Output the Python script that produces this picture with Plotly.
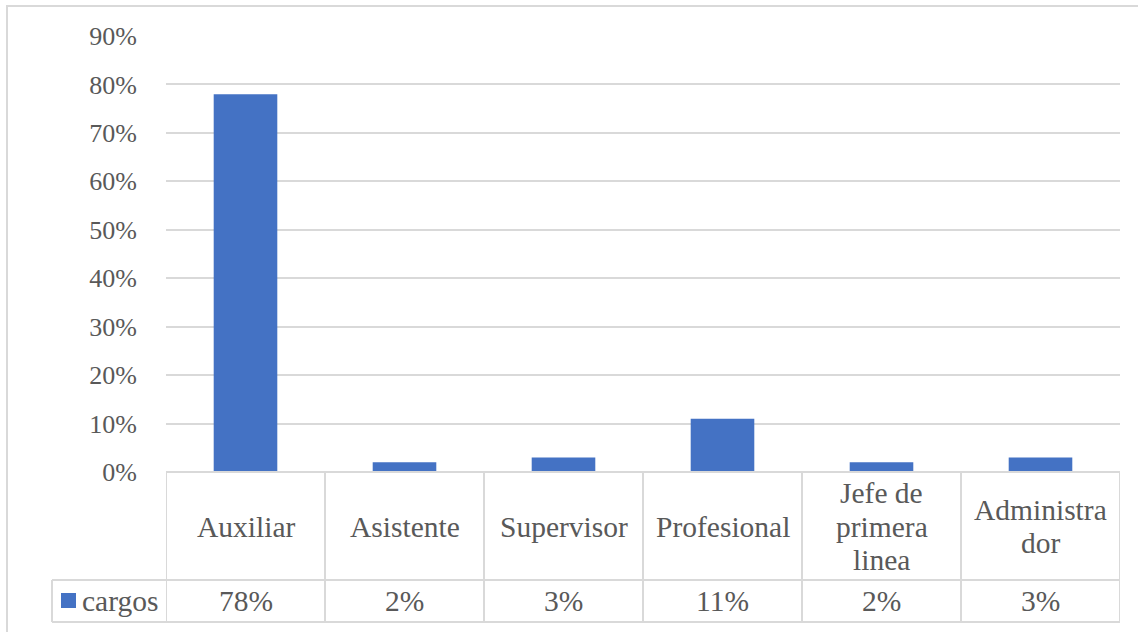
import plotly.graph_objects as go

categories = ["Auxiliar", "Asistente", "Supervisor", "Profesional", "Jefe de primera linea", "Administrador"]
table_lines = [["Auxiliar"], ["Asistente"], ["Supervisor"], ["Profesional"],
               ["Jefe de", "primera", "linea"], ["Administra", "dor"]]
values = [0.78, 0.02, 0.03, 0.11, 0.02, 0.03]
value_labels = ["78%", "2%", "3%", "11%", "2%", "3%"]
series_name = "cargos"
tick_vals = [0, 0.1, 0.2, 0.3, 0.4, 0.5, 0.6, 0.7, 0.8, 0.9]
tick_text = ["0%", "10%", "20%", "30%", "40%", "50%", "60%", "70%", "80%", "90%"]

W, H = 1138, 632
L, R, T, B = 166, 1120, 36, 472
PW, PH = R - L, B - T
FONT = "Liberation Serif"
TXT = "#595959"
GRID = "#d9d9d9"
BAR = "#4472C4"
FS_TICK = 26
FS_TAB = 29.5
LINE_H = 33.5


def px(x):
    return (x - L) / PW


def py(y):
    return (B - y) / PH


fig = go.Figure()
xs = list(range(len(categories)))
fig.add_trace(go.Bar(x=xs, y=values, marker=dict(color=BAR, line=dict(width=0)),
                     name=series_name, showlegend=False, hoverinfo="skip"))

shapes = []
# outer border
shapes.append(dict(type="rect", xref="paper", yref="paper", x0=px(7), x1=px(1150), y0=py(6), y1=py(650),
                   line=dict(color=GRID, width=2), fillcolor="rgba(0,0,0,0)", layer="below"))
# table horizontal lines
rows = [(B, L), (580, 52), (622, 52)]
for yy, x0 in rows:
    shapes.append(dict(type="line", xref="paper", yref="paper", x0=px(x0), x1=px(R), y0=py(yy), y1=py(yy),
                       line=dict(color=GRID, width=2)))
# table vertical lines
for i in range(len(categories) + 1):
    shapes.append(dict(type="line", xref="x", yref="paper", x0=i - 0.5, x1=i - 0.5, y0=py(B), y1=py(622),
                       line=dict(color=GRID, width=2)))
shapes.append(dict(type="line", xref="paper", yref="paper", x0=px(52), x1=px(52), y0=py(580), y1=py(622),
                   line=dict(color=GRID, width=2)))
# legend key
shapes.append(dict(type="rect", xref="paper", yref="paper", x0=px(61), x1=px(76), y0=py(593), y1=py(608),
                   line=dict(width=0), fillcolor=BAR))

annotations = []
cell_mid = 526.5
for i, lines in enumerate(table_lines):
    n = len(lines)
    for k, line in enumerate(lines):
        yy = cell_mid + (k - (n - 1) / 2) * LINE_H
        annotations.append(dict(x=i, y=py(yy), xref="x", yref="paper", text=line, showarrow=False,
                                font=dict(family=FONT, size=FS_TAB, color=TXT),
                                xanchor="center", yanchor="middle"))
    annotations.append(dict(x=i, y=py(601), xref="x", yref="paper", text=value_labels[i], showarrow=False,
                            font=dict(family=FONT, size=FS_TAB, color=TXT), xanchor="center", yanchor="middle"))
annotations.append(dict(x=px(80), y=py(601), xref="paper", yref="paper", text=series_name, showarrow=False,
                        font=dict(family=FONT, size=FS_TAB, color=TXT), xanchor="left", yanchor="middle"))

fig.update_layout(
    width=W, height=H,
    margin=dict(l=L, r=W - R, t=T, b=H - B, pad=0),
    paper_bgcolor="white", plot_bgcolor="white",
    bargap=0.6,
    shapes=shapes, annotations=annotations,
    xaxis=dict(range=[-0.5, len(categories) - 0.5], showticklabels=False, showgrid=False,
               zeroline=False, showline=False, fixedrange=True),
    yaxis=dict(range=[0, 0.9], tickvals=tick_vals, ticktext=tick_text, showgrid=True,
               gridcolor=GRID, gridwidth=1.5, zeroline=False, showline=False, fixedrange=True,
               tickfont=dict(family=FONT, size=FS_TICK, color=TXT), ticklabelstandoff=28),
    font=dict(family=FONT, color=TXT),
)

fig.write_html("out.html", config={"displayModeBar": False},
               post_script="document.body.style.margin='0';")
